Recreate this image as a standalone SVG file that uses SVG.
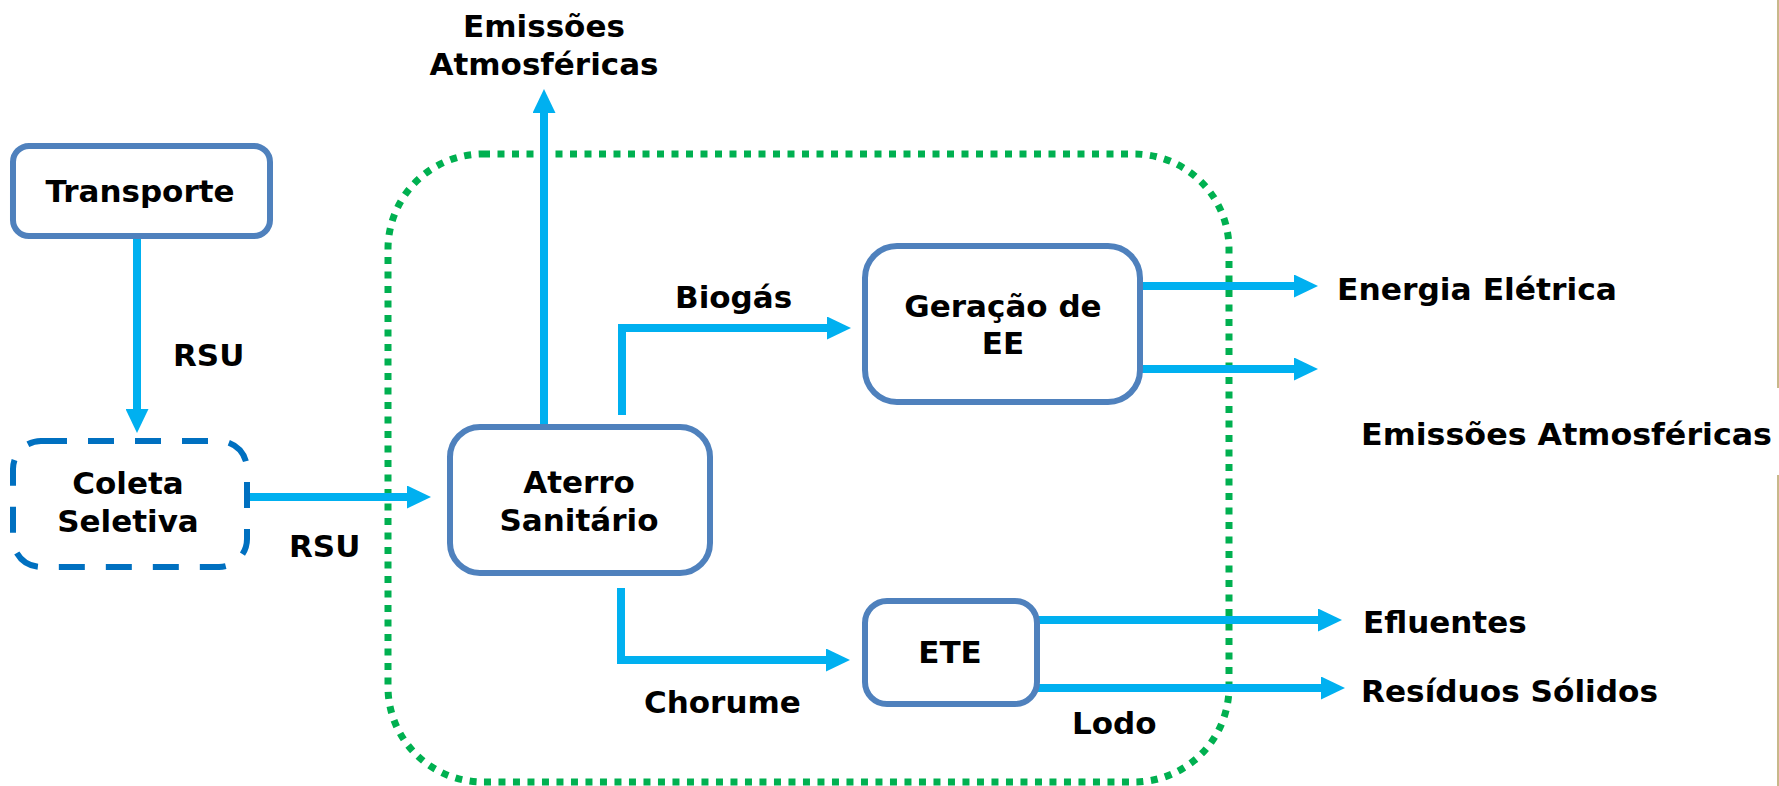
<svg xmlns="http://www.w3.org/2000/svg" width="1779" height="786" viewBox="0 0 1779 786">
<style>
.box{fill:#fff;stroke:#4f81bd;stroke-width:6}
.dash{fill:#fff;stroke:#0070c0;stroke-width:6;stroke-dasharray:26 21}
.lbl{font-family:"DejaVu Sans","Liberation Sans",sans-serif;font-weight:bold;font-size:31px;fill:#000}
.mid{text-anchor:middle}
.conn{fill:none;stroke:#00b0f0;stroke-width:8}
</style>
<defs>
<marker id="ah" markerUnits="userSpaceOnUse" markerWidth="24" markerHeight="23" refX="0" refY="11.5" orient="auto" viewBox="0 0 24 23">
<path d="M0,0 L24,11.5 L0,23 z" fill="#00b0f0"/>
</marker>
</defs>
<rect width="1779" height="786" fill="#fff"/>
<g id="edge-line" stroke="#c8b88a" stroke-width="2">
<line x1="1778" y1="0" x2="1778" y2="388"/>
<line x1="1778" y1="475" x2="1778" y2="786"/>
</g>
<g id="boundary">
<rect x="388" y="154" width="841" height="628" rx="95" ry="95" fill="none" stroke="#00b050" stroke-width="7" stroke-dasharray="7 7.5"/>
</g>
<g id="connectors">
<path class="conn" d="M137,236 V409" marker-end="url(#ah)"/>
<path class="conn" d="M246,497 H407" marker-end="url(#ah)"/>
<path class="conn" d="M544,425 V113" marker-end="url(#ah)"/>
<path class="conn" d="M622,415 V328 H827" marker-end="url(#ah)"/>
<path class="conn" d="M621,588 V660 H826" marker-end="url(#ah)"/>
<path class="conn" d="M1140,286 H1294" marker-end="url(#ah)"/>
<path class="conn" d="M1140,369 H1294" marker-end="url(#ah)"/>
<path class="conn" d="M1038,620 H1318" marker-end="url(#ah)"/>
<path class="conn" d="M1038,688 H1321" marker-end="url(#ah)"/>
</g>
<g id="transporte">
<rect class="box" x="13" y="146" width="257" height="90" rx="16"/>
<text class="lbl mid" x="140" y="202">Transporte</text>
</g>
<g id="coleta">
<rect class="dash" x="13" y="441" width="234" height="126" rx="28"/>
<text class="lbl mid" x="128" y="494">Coleta</text>
<text class="lbl mid" x="128" y="532">Seletiva</text>
</g>
<g id="aterro">
<rect class="box" x="450" y="427" width="260" height="146" rx="30"/>
<text class="lbl mid" x="579" y="493">Aterro</text>
<text class="lbl mid" x="579" y="531">Sanitário</text>
</g>
<g id="geracao">
<rect class="box" x="865" y="246" width="275" height="156" rx="32"/>
<text class="lbl mid" x="1003" y="317">Geração de</text>
<text class="lbl mid" x="1003" y="354">EE</text>
</g>
<g id="ete">
<rect class="box" x="865" y="601" width="172" height="103" rx="22"/>
<text class="lbl mid" x="950" y="663">ETE</text>
</g>
<g id="labels">
<text class="lbl" x="173" y="366">RSU</text>
<text class="lbl" x="289" y="557">RSU</text>
<text class="lbl mid" x="544" y="37">Emissões</text>
<text class="lbl mid" x="544" y="75">Atmosféricas</text>
<text class="lbl" x="675" y="308">Biogás</text>
<text class="lbl" x="644" y="713">Chorume</text>
<text class="lbl" x="1072" y="734">Lodo</text>
<text class="lbl" x="1337" y="300" textLength="280" lengthAdjust="spacingAndGlyphs">Energia Elétrica</text>
<text class="lbl" x="1361" y="445" textLength="411" lengthAdjust="spacingAndGlyphs">Emissões Atmosféricas</text>
<text class="lbl" x="1363" y="633">Efluentes</text>
<text class="lbl" x="1361" y="702" textLength="297" lengthAdjust="spacingAndGlyphs">Resíduos Sólidos</text>
</g>
</svg>
